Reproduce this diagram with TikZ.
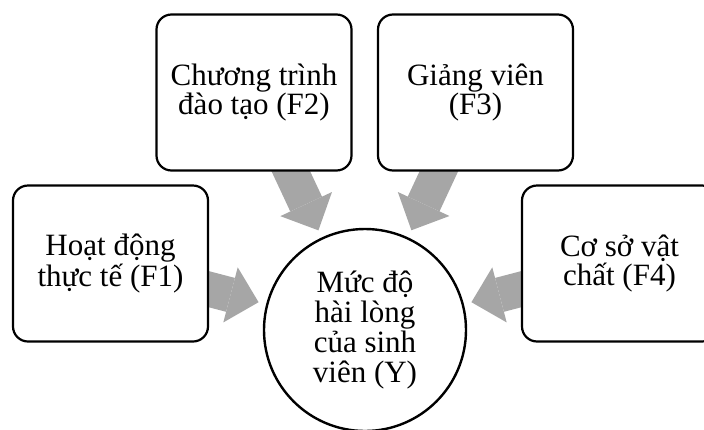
\documentclass[tikz,border=0pt]{standalone}
\usepackage{fontspec}
\setmainfont{Liberation Serif}
\usepackage{tikz}
\usetikzlibrary{arrows.meta, backgrounds}
\definecolor{arrowgray}{RGB}{166,166,166}

\begin{document}
\begin{tikzpicture}[x=1pt, y=-1pt,
    factor/.style={rectangle, draw=black, fill=white, line width=2.2pt, rounded corners=15pt, minimum width=195pt, minimum height=156pt, align=center, inner sep=2pt, font=\fontsize{31pt}{28.5pt}\selectfont},
    outcome/.style={circle, draw=black, fill=white, line width=2.4pt, minimum size=202pt, inner sep=0pt, align=center, font=\fontsize{31pt}{30pt}\selectfont},
    arrow/.style={draw=arrowgray, line width=35pt, -{Triangle[length=29pt, width=57pt, line width=0pt, color=arrowgray]}, shorten >=110pt}]
    \useasboundingbox (0,0) rectangle (704,429);

    % Outcome
    \node[outcome] (y) at (365,330) {Mức độ\\ hài lòng\\ của sinh\\ viên (Y)};

    % Factors
    \node[factor] (f1) at (110.5,263.5) {Hoạt động\\ thực tế (F1)};
    \node[factor] (f2) at (254,92.5) {Chương trình\\ đào tạo (F2)};
    \node[factor] (f3) at (475.5,92.5) {Giảng viên\\ (F3)};
    \node[factor] (f4) at (619.5,263.5) {Cơ sở vật\\ chất (F4)};

    % Connections
    \begin{scope}[on background layer]
        \draw[arrow] (f1.center) -- (y.center);
        \draw[arrow] (f2.center) -- (y.center);
        \draw[arrow] (f3.center) -- (y.center);
        \draw[arrow] (f4.center) -- (y.center);
    \end{scope}
\end{tikzpicture}
\end{document}
